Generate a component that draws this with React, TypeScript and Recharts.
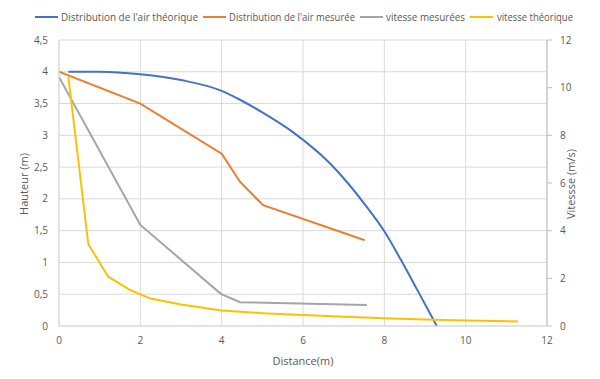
import React from "react";
import { ComposedChart, Line, XAxis, YAxis, CartesianGrid } from "recharts";

const xTicks = [0, 2, 4, 6, 8, 10, 12];
const leftTicks = [0, 0.5, 1, 1.5, 2, 2.5, 3, 3.5, 4, 4.5];
const rightTicks = [0, 2, 4, 6, 8, 10, 12];

// Distribution de l'air théorique (m)
const theoX = [0.23, 1, 2, 3, 4, 4.45, 5, 5.75, 6.66, 7.1, 7.5, 8.0, 8.4, 8.8, 9.29];
const theoY = [4.0, 4.0, 3.96, 3.87, 3.7, 3.56, 3.36, 3.05, 2.56, 2.25, 1.93, 1.49, 1.05, 0.58, 0];

// Distribution de l'air mesurée (m)
const mesX = [0, 2, 4, 4.45, 5.02, 7.52];
const mesY = [4.0, 3.5, 2.71, 2.27, 1.9, 1.35];

// vitesse mesurées (m/s)
const vmX = [0, 2, 3.98, 4.45, 7.57];
const vmY = [10.45, 4.24, 1.35, 1.0, 0.88];

// vitesse théorique (m/s)
const vtX = [0.23, 0.72, 1.21, 1.75, 2.25, 3, 4, 5, 6, 7, 8, 9, 10, 11.29];
const vtY = [10.45, 3.44, 2.07, 1.51, 1.15, 0.9, 0.65, 0.54, 0.46, 0.39, 0.32, 0.27, 0.23, 0.19];

const zip = (xs: number[], ys: number[]) => xs.map((x, i) => ({ x, y: ys[i] }));

const theoData = zip(theoX, theoY);
const mesData = zip(mesX, mesY);
const vmData = zip(vmX, vmY);
const vtData = zip(vtX, vtY);

const legendItems = [
  { name: "Distribution de l'air théorique", color: "#4472C4", x1: 35, tx: 61, tw: 137 },
  { name: "Distribution de l'air mesurée", color: "#ED7D31", x1: 203, tx: 229, tw: 126 },
  { name: "vitesse mesurées", color: "#A5A5A5", x1: 360, tx: 386, tw: 79 },
  { name: "vitesse théorique", color: "#FFC000", x1: 470, tx: 497, tw: 76 },
];

const FONT = "'Open Sans', 'Liberation Sans', sans-serif";
const TXT = "#595959";

export default function App() {
  const tickStyle = { fontSize: 10, fill: TXT, fontFamily: FONT };
  return (
    <div style={{ position: "absolute", left: 0, top: 0, width: 600, height: 379, background: "#fff" }}>
      <ComposedChart
        width={600}
        height={379}
        margin={{ top: 40, right: 0, bottom: 0, left: 0 }}
      >
        <CartesianGrid yAxisId="left" stroke="#D9D9D9" strokeWidth={1} />
        <XAxis
          dataKey="x"
          type="number"
          domain={[0, 12]}
          ticks={xTicks}
          height={53}
          tickLine={false}
          tickSize={0}
          tickMargin={11}
          axisLine={{ stroke: "#D9D9D9" }}
          tick={tickStyle}
          allowDataOverflow
        />
        <YAxis
          yAxisId="left"
          type="number"
          domain={[0, 4.5]}
          ticks={leftTicks}
          width={59}
          tickLine={false}
          tickSize={0}
          tickMargin={11}
          axisLine={{ stroke: "#D9D9D9" }}
          tick={tickStyle}
          tickFormatter={(v: number) => String(v).replace(".", ",")}
        />
        <YAxis
          yAxisId="right"
          orientation="right"
          type="number"
          domain={[0, 12]}
          ticks={rightTicks}
          width={53}
          tickLine={{ stroke: "#BFBFBF" }}
          tickSize={5}
          tickMargin={8}
          axisLine={{ stroke: "#BFBFBF" }}
          tick={tickStyle}
        />
        <Line
          yAxisId="left"
          data={theoData}
          dataKey="y"
          type="monotone"
          stroke="#4472C4"
          strokeWidth={2}
          dot={false}
          isAnimationActive={false}
        />
        <Line
          yAxisId="left"
          data={mesData}
          dataKey="y"
          type="linear"
          stroke="#ED7D31"
          strokeWidth={2}
          dot={false}
          isAnimationActive={false}
        />
        <Line
          yAxisId="right"
          data={vmData}
          dataKey="y"
          type="linear"
          stroke="#A5A5A5"
          strokeWidth={2}
          dot={false}
          isAnimationActive={false}
        />
        <Line
          yAxisId="right"
          data={vtData}
          dataKey="y"
          type="linear"
          stroke="#FFC000"
          strokeWidth={2}
          dot={false}
          isAnimationActive={false}
        />
      </ComposedChart>
      <svg
        width={600}
        height={379}
        style={{ position: "absolute", left: 0, top: 0, pointerEvents: "none" }}
      >
        {legendItems.map((it) => (
          <g key={it.name}>
            <line x1={it.x1} x2={it.x1 + 23} y1={17} y2={17} stroke={it.color} strokeWidth={2} />
            <text
              x={it.tx}
              y={20.5}
              fontSize={10.5}
              fill={TXT}
              fontFamily={FONT}
              textLength={it.tw}
              lengthAdjust="spacingAndGlyphs"
            >
              {it.name}
            </text>
          </g>
        ))}
        <text
          x={303}
          y={365}
          fontSize={11}
          fill={TXT}
          fontFamily={FONT}
          textAnchor="middle"
        >
          Distance(m)
        </text>
        <text
          transform="translate(28,184) rotate(-90)"
          fontSize={11}
          fill={TXT}
          fontFamily={FONT}
          textAnchor="middle"
        >
          Hauteur (m)
        </text>
        <text
          transform="translate(575,184) rotate(-90)"
          fontSize={11}
          fill={TXT}
          fontFamily={FONT}
          textAnchor="middle"
        >
          Vitessse (m/s)
        </text>
      </svg>
    </div>
  );
}
